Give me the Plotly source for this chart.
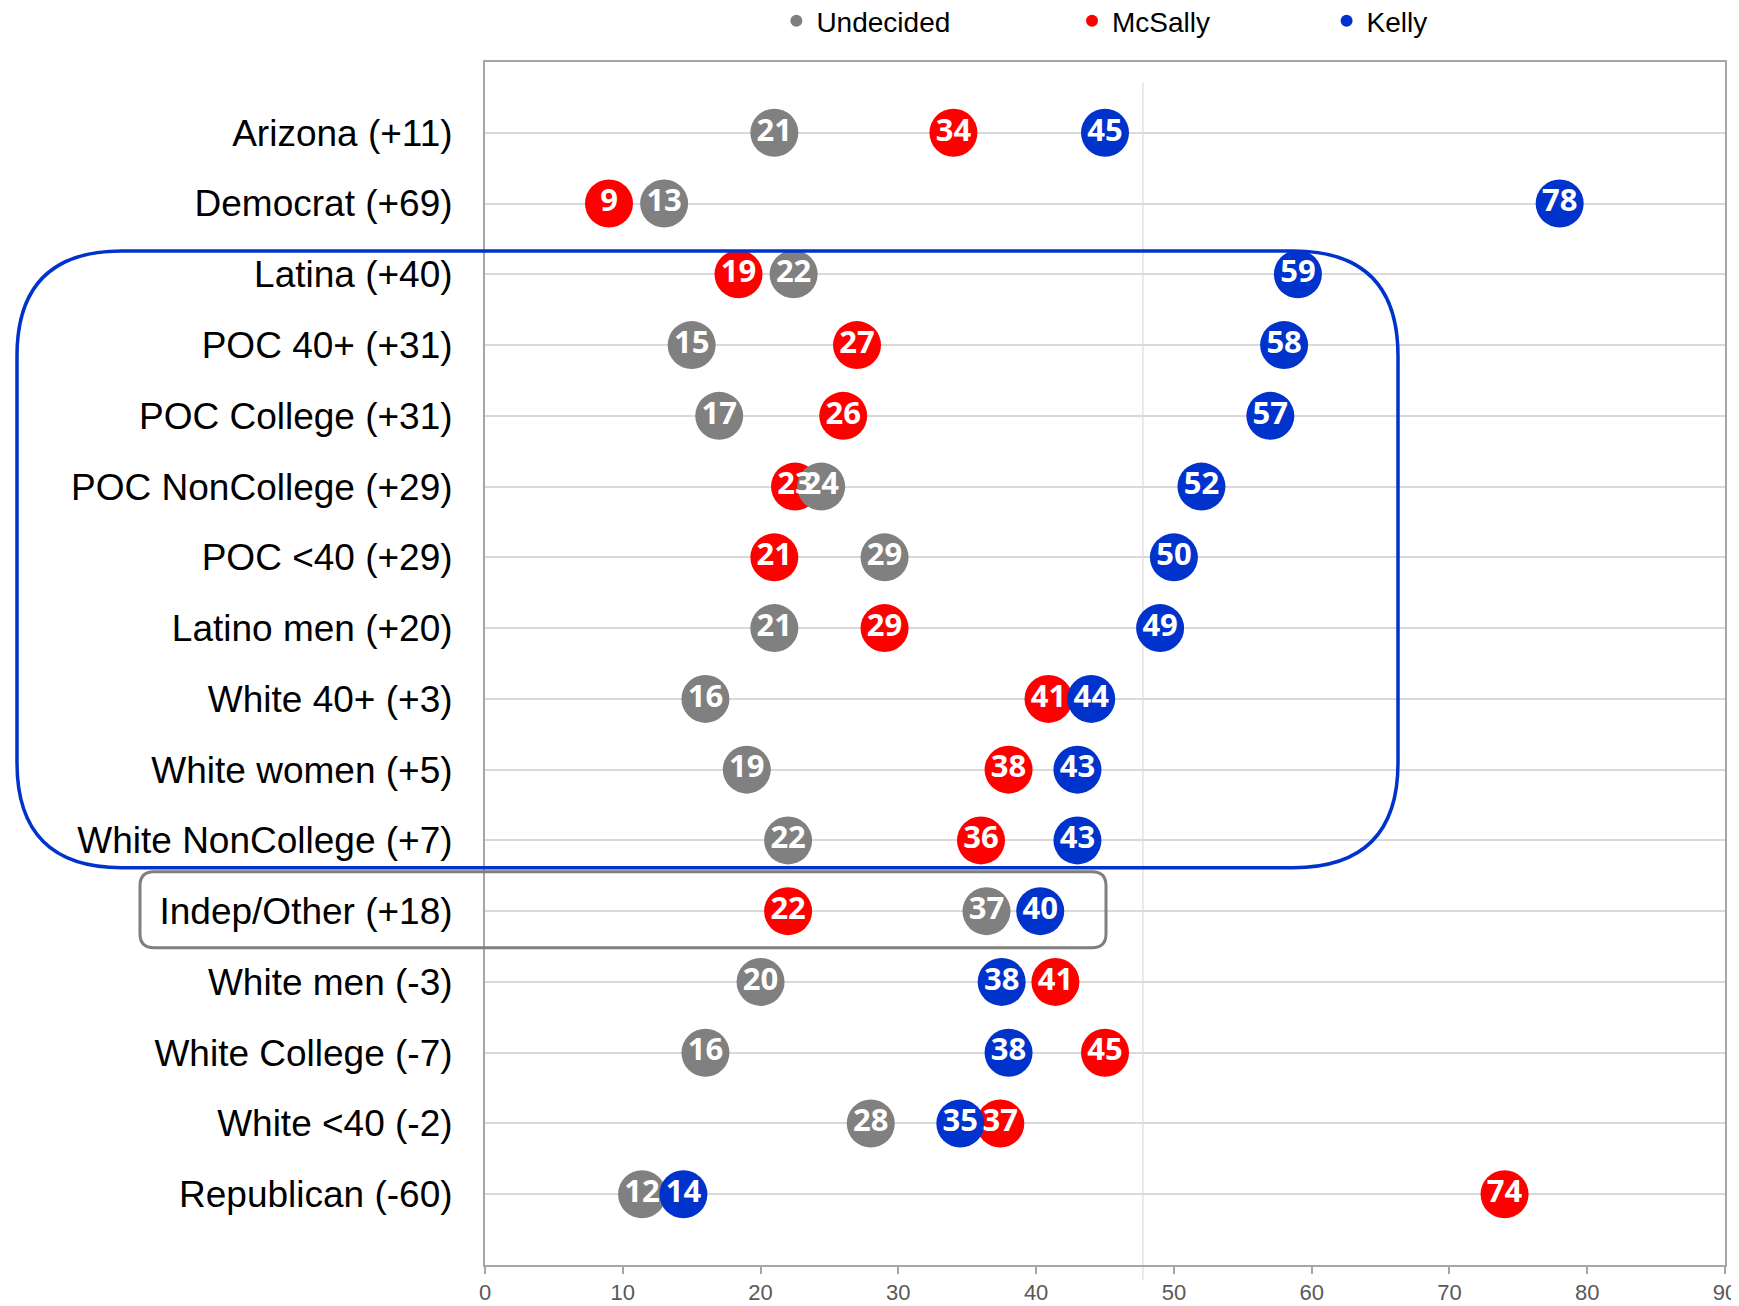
import plotly.graph_objects as go

# rows, top to bottom
categories = [
    "Arizona (+11)", "Democrat (+69)", "Latina (+40)", "POC 40+ (+31)",
    "POC College (+31)", "POC NonCollege (+29)", "POC <40 (+29)",
    "Latino men (+20)", "White 40+ (+3)", "White women (+5)",
    "White NonCollege (+7)", "Indep/Other (+18)", "White men (-3)",
    "White College (-7)", "White <40 (-2)", "Republican (-60)",
]

# marker positions
undecided = [21, 13, 22.4, 15, 17, 24.4, 29, 21, 16, 19, 22, 36.4, 20, 16, 28, 11.4]
mcsally = [34, 9, 18.4, 27, 26, 22.5, 21, 29, 40.9, 38, 36, 22, 41.4, 45, 37.4, 74]
kelly = [45, 78, 59, 58, 57, 52, 50, 49, 44, 43, 43, 40.3, 37.5, 38, 34.5, 14.4]

# numbers printed inside the bubbles
undecided_labels = [21, 13, 22, 15, 17, 24, 29, 21, 16, 19, 22, 37, 20, 16, 28, 12]
mcsally_labels = [34, 9, 19, 27, 26, 23, 21, 29, 41, 38, 36, 22, 41, 45, 37, 74]
kelly_labels = [45, 78, 59, 58, 57, 52, 50, 49, 44, 43, 43, 40, 38, 38, 35, 14]

REFERENCE_LINE = 47.75

GRAY = "#808080"
RED = "#FF0000"
BLUE = "#0033CC"
AXIS = "#A6A6A6"
GRID = "#D9D9D9"
FONT = "Liberation Sans, Arial, sans-serif"

# the html body has an 8px margin, so the figure starts at (8, 8) on the page
PAGE_PAD = 8
W, H = 1739 - PAGE_PAD, 1306 - PAGE_PAD
M_L, M_R, M_T, M_B = 477, 14, 54, 40.5
PLOT_W = W - M_L - M_R
PLOT_H = H - M_T - M_B


def px_to_paper(x, y):
    """page pixel -> paper coords"""
    x, y = x - PAGE_PAD, y - PAGE_PAD
    return (x - M_L) / PLOT_W, (H - M_B - y) / PLOT_H


def rounded_box(x0, y0, x1, y1, r):
    """SVG path (paper coords) for a rounded rectangle given in page pixels."""
    pts = [
        ("M", (x0 + r, y0)), ("L", (x1 - r, y0)), ("Q", (x1, y0), (x1, y0 + r)),
        ("L", (x1, y1 - r)), ("Q", (x1, y1), (x1 - r, y1)),
        ("L", (x0 + r, y1)), ("Q", (x0, y1), (x0, y1 - r)),
        ("L", (x0, y0 + r)), ("Q", (x0, y0), (x0 + r, y0)),
    ]
    out = []
    for cmd, *coords in pts:
        s = " ".join("%.5f,%.5f" % px_to_paper(*c) for c in coords)
        out.append(f"{cmd}{s}")
    return " ".join(out) + " Z"


def dots(name, x, color, legend):
    return go.Scatter(
        x=x,
        y=categories,
        mode="markers",
        name=name,
        legend=legend,
        marker=dict(size=48, color=color, line=dict(width=0)),
        cliponaxis=False,
        hovertemplate="%{y}<br>" + name + ": %{x}<extra></extra>",
    )


def numbers(x, labels):
    # labels drawn after all bubbles so overlapping pairs stay readable
    return go.Scatter(
        x=x,
        y=categories,
        mode="text",
        showlegend=False,
        text=[str(v) for v in labels],
        textposition="middle center",
        textfont=dict(family="Open Sans, sans-serif", size=31, color="white", weight="bold"),
        cliponaxis=False,
        hoverinfo="skip",
    )


fig = go.Figure()
# drawing order bottom -> top
fig.add_trace(dots("McSally", mcsally, RED, "legend2"))
fig.add_trace(dots("Undecided", undecided, GRAY, "legend"))
fig.add_trace(dots("Kelly", kelly, BLUE, "legend3"))
fig.add_trace(numbers(mcsally, mcsally_labels))
fig.add_trace(numbers(undecided, undecided_labels))
fig.add_trace(numbers(kelly, kelly_labels))

legend_style = dict(
    orientation="h",
    xanchor="left",
    yanchor="middle",
    yref="container",
    y=1 - 13 / H,
    itemsizing="constant",
    bgcolor="rgba(0,0,0,0)",
    font=dict(family=FONT, size=28, color="#000000"),
)

fig.update_layout(
    width=W,
    height=H,
    margin=dict(l=M_L, r=M_R, t=M_T, b=M_B, autoexpand=False),
    paper_bgcolor="white",
    plot_bgcolor="white",
    font=dict(family=FONT, color="#000000"),
    showlegend=True,
    legend=dict(x=0.235, **legend_style),
    legend2=dict(x=0.4734, **legend_style),
    legend3=dict(x=0.6787, **legend_style),
    xaxis=dict(
        range=[0, 90],
        dtick=10,
        automargin=False,
        showgrid=False,
        zeroline=False,
        showline=True,
        linecolor=AXIS,
        linewidth=2,
        mirror=True,
        ticks="outside",
        ticklen=7,
        tickcolor=AXIS,
        tickwidth=1.5,
        tickfont=dict(family=FONT, size=22, color="#595959"),
    ),
    yaxis=dict(
        type="category",
        categoryorder="array",
        categoryarray=categories,
        range=[len(categories), -1],
        automargin=False,
        showgrid=True,
        gridcolor=GRID,
        gridwidth=1.5,
        zeroline=False,
        showline=True,
        linecolor=AXIS,
        linewidth=2,
        mirror=True,
        ticks="",
        ticklabelstandoff=23,
        tickfont=dict(family=FONT, size=37, color="#000000"),
    ),
)

# faint vertical reference line
fig.add_shape(
    type="line", xref="x", yref="paper",
    x0=REFERENCE_LINE, x1=REFERENCE_LINE, y0=-0.012, y1=0.983,
    line=dict(color="#E3E3E3", width=1.5), layer="below",
)

# highlight boxes (page pixels)
fig.add_shape(
    type="path", xref="paper", yref="paper",
    path=rounded_box(17, 251, 1398, 868, 105),
    line=dict(color=BLUE, width=3.5), layer="above",
)
fig.add_shape(
    type="path", xref="paper", yref="paper",
    path=rounded_box(140, 872, 1106, 948, 14),
    line=dict(color="#7F7F7F", width=3), layer="above",
)

fig.write_html("out.html")
